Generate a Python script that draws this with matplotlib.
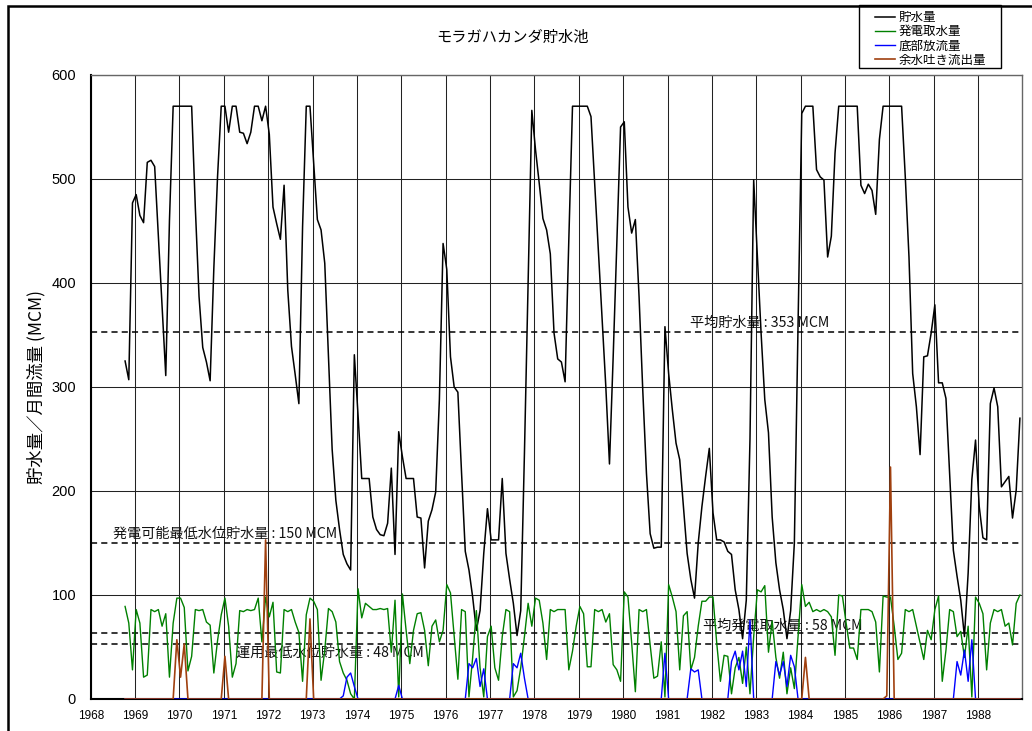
import matplotlib
matplotlib.use('Agg')
import matplotlib.pyplot as plt
from matplotlib.patches import Rectangle
from matplotlib.legend_handler import HandlerLine2D
from matplotlib.lines import Line2D
import numpy as np

plt.rcParams['font.family'] = ['Noto Sans CJK JP', 'DejaVu Sans']

title = 'モラガハカンダ貯水池'
ylabel = '貯水量／月間流量 (MCM)'
series_names = ['貯水量', '発電取水量', '底部放流量', '余水吐き流出量']
series_colors = ['#000000', '#008000', '#0000ff', '#a0400f']
year_ticks = list(range(1968, 1989))
y_ticks = [0, 100, 200, 300, 400, 500, 600]
start_year, start_month = 1968, 10   # monthly data Oct 1968 - Dec 1988

# Reference lines (value, label)
ref_values = [353, 150, 63, 52.5]
ref_labels = ['平均貯水量 : 353 MCM', '発電可能最低水位貯水量 : 150 MCM',
              '平均発電取水量 : 58 MCM', '運用最低水位貯水量 : 48 MCM']

storage = [
    325, 307, 477,                                              # 1968
    485, 465, 458, 516, 518, 512, 445, 378, 311, 460, 570, 570,  # 1969
    570, 570, 570, 570, 472, 387, 338, 324, 306, 414, 502, 570,  # 1970
    570, 545, 570, 570, 545, 544, 534, 545, 570, 570, 556, 570,  # 1971
    543, 473, 457, 442, 494, 393, 339, 312, 284, 454, 570, 570,  # 1972
    515, 461, 451, 419, 329, 240, 191, 163, 139, 130, 124, 331,  # 1973
    273, 212, 212, 212, 175, 163, 158, 157, 169, 222, 139, 257,  # 1974
    233, 212, 212, 212, 175, 174, 126, 171, 182, 199, 288, 438,  # 1975
    413, 329, 300, 295, 217, 142, 124, 98, 66, 85, 140, 183,     # 1976
    153, 153, 153, 212, 140, 115, 92, 61, 85, 236, 401, 566,     # 1977
    528, 496, 462, 451, 428, 352, 327, 324, 305, 441, 570, 570,  # 1978
    570, 570, 570, 560, 496, 431, 366, 301, 226, 329, 441, 550,  # 1979
    555, 473, 448, 461, 387, 297, 217, 159, 145, 146, 146, 358,  # 1980
    313, 278, 246, 230, 185, 140, 115, 97, 150, 185, 214, 241,   # 1981
    179, 153, 153, 151, 142, 139, 105, 86, 58, 95, 250, 499,     # 1982
    425, 352, 288, 256, 175, 131, 105, 86, 58, 85, 150, 360,     # 1983
    563, 570, 570, 570, 509, 502, 499, 425, 445, 525, 570, 570,  # 1984
    570, 570, 570, 570, 494, 486, 495, 489, 466, 538, 570, 570,  # 1985
    570, 570, 570, 570, 502, 425, 313, 281, 235, 329, 330, 352,  # 1986
    379, 304, 304, 289, 217, 143, 118, 95, 60, 121, 211, 249,    # 1987
    185, 155, 153, 284, 299, 281, 204, 209, 214, 174, 201, 270,  # 1988
]

power = [
    89, 73, 28,                                                  # 1968
    86, 73, 21, 23, 86, 84, 86, 70, 82, 21, 73, 97,              # 1969
    97, 88, 27, 41, 86, 85, 86, 74, 71, 25, 56, 81,              # 1970
    97, 70, 21, 34, 85, 84, 86, 85, 86, 97, 55, 98,              # 1971
    79, 93, 26, 25, 86, 84, 86, 74, 64, 17, 81, 97,              # 1972
    94, 86, 18, 47, 87, 84, 74, 36, 25, 18, 5, 0,                # 1973
    106, 78, 92, 89, 86, 86, 87, 86, 87, 45, 95, 2,              # 1974
    101, 66, 34, 66, 82, 83, 66, 32, 70, 76, 55, 66,             # 1975
    110, 102, 60, 19, 86, 84, 2, 40, 85, 30, 2, 60,              # 1976
    70, 30, 18, 60, 86, 84, 2, 8, 30, 60, 92, 70,                # 1977
    97, 95, 73, 38, 86, 84, 86, 86, 86, 28, 46, 70,              # 1978
    89, 82, 31, 31, 86, 84, 86, 74, 82, 33, 28, 17,              # 1979
    103, 98, 54, 7, 86, 84, 86, 52, 20, 22, 55, 2,               # 1980
    110, 98, 84, 28, 80, 84, 28, 40, 70, 94, 94, 98,             # 1981
    98, 54, 17, 42, 41, 5, 30, 40, 15, 50, 5, 60,                # 1982
    105, 103, 109, 45, 75, 40, 20, 45, 5, 30, 10, 60,            # 1983
    110, 89, 93, 84, 86, 84, 86, 84, 79, 42, 100, 99,            # 1984
    73, 49, 49, 38, 86, 86, 86, 84, 74, 26, 99, 98,              # 1985
    98, 70, 38, 44, 86, 84, 86, 70, 54, 38, 66, 57,              # 1986
    86, 99, 17, 47, 86, 84, 60, 65, 40, 70, 2, 98,               # 1987
    92, 82, 28, 73, 86, 84, 86, 70, 73, 52, 92, 100,             # 1988
]

bottom_outlet = [
    0, 0, 0,                                                     # 1968
    0, 0, 0, 0, 0, 0, 0, 0, 0, 0, 0, 0,                          # 1969
    0, 0, 0, 0, 0, 0, 0, 0, 0, 0, 0, 0,                          # 1970
    0, 0, 0, 0, 0, 0, 0, 0, 0, 0, 0, 0,                          # 1971
    0, 0, 0, 0, 0, 0, 0, 0, 0, 0, 0, 0,                          # 1972
    0, 0, 0, 0, 0, 0, 0, 0, 3, 21, 25, 12,                       # 1973
    0, 0, 0, 0, 0, 0, 0, 0, 0, 0, 0, 13,                         # 1974
    0, 0, 0, 0, 0, 0, 0, 0, 0, 0, 0, 0,                          # 1975
    0, 0, 0, 0, 0, 0, 34, 30, 39, 12, 29, 0,                     # 1976
    0, 0, 0, 0, 0, 0, 34, 30, 44, 20, 0, 0,                      # 1977
    0, 0, 0, 0, 0, 0, 0, 0, 0, 0, 0, 0,                          # 1978
    0, 0, 0, 0, 0, 0, 0, 0, 0, 0, 0, 0,                          # 1979
    0, 0, 0, 0, 0, 0, 0, 0, 0, 0, 0, 44,                         # 1980
    0, 0, 0, 0, 0, 0, 29, 26, 28, 0, 0, 0,                       # 1981
    0, 0, 0, 0, 0, 36, 46, 28, 46, 12, 76, 0,                    # 1982
    0, 0, 0, 0, 0, 36, 23, 36, 12, 42, 31, 0,                    # 1983
    0, 0, 0, 0, 0, 0, 0, 0, 0, 0, 0, 0,                          # 1984
    0, 0, 0, 0, 0, 0, 0, 0, 0, 0, 0, 0,                          # 1985
    0, 0, 0, 0, 0, 0, 0, 0, 0, 0, 0, 0,                          # 1986
    0, 0, 0, 0, 0, 0, 36, 23, 47, 17, 57, 0,                     # 1987
    0, 0, 0, 0, 0, 0, 0, 0, 0, 0, 0, 0,                          # 1988
]

spillway = [
    0, 0, 0,                                                     # 1968
    0, 0, 0, 0, 0, 0, 0, 0, 0, 0, 0, 57,                         # 1969
    21, 53, 0, 0, 0, 0, 0, 0, 0, 0, 0, 0,                        # 1970
    41, 0, 0, 0, 0, 0, 0, 0, 0, 0, 0, 153,                       # 1971
    0, 0, 0, 0, 0, 0, 0, 0, 0, 0, 0, 77,                         # 1972
    0, 0, 0, 0, 0, 0, 0, 0, 0, 0, 0, 0,                          # 1973
    0, 0, 0, 0, 0, 0, 0, 0, 0, 0, 0, 0,                          # 1974
    0, 0, 0, 0, 0, 0, 0, 0, 0, 0, 0, 0,                          # 1975
    0, 0, 0, 0, 0, 0, 0, 0, 0, 0, 0, 0,                          # 1976
    0, 0, 0, 0, 0, 0, 0, 0, 0, 0, 0, 0,                          # 1977
    0, 0, 0, 0, 0, 0, 0, 0, 0, 0, 0, 0,                          # 1978
    0, 0, 0, 0, 0, 0, 0, 0, 0, 0, 0, 0,                          # 1979
    0, 0, 0, 0, 0, 0, 0, 0, 0, 0, 0, 0,                          # 1980
    0, 0, 0, 0, 0, 0, 0, 0, 0, 0, 0, 0,                          # 1981
    0, 0, 0, 0, 0, 0, 0, 0, 0, 0, 0, 0,                          # 1982
    0, 0, 0, 0, 0, 0, 0, 0, 0, 0, 0, 0,                          # 1983
    0, 40, 0, 0, 0, 0, 0, 0, 0, 0, 0, 0,                         # 1984
    0, 0, 0, 0, 0, 0, 0, 0, 0, 0, 0, 3,                          # 1985
    223, 0, 0, 0, 0, 0, 0, 0, 0, 0, 0, 0,                        # 1986
    0, 0, 0, 0, 0, 0, 0, 0, 0, 0, 0, 0,                          # 1987
    0, 0, 0, 0, 0, 0, 0, 0, 0, 0, 0, 0,                          # 1988
]

n = len(storage)
month_index = np.arange(n) + (start_month - 1)
x = start_year + (month_index + 0.3) / 12.0

W, H = 1032, 731
fig = plt.figure(figsize=(W / 100, H / 100), dpi=100)
ax = fig.add_axes([90.7 / W, 1 - 699 / H, (1022.5 - 90.7) / W, (699 - 75) / H])

ax.set_xlim(1968, 1989)
ax.set_ylim(0, 600)
ax.set_xticks(year_ticks)
ax.set_xticklabels([str(y) for y in year_ticks], fontsize=8.5,
                   family=['Liberation Sans'])
ax.set_yticks(y_ticks)
ax.set_yticklabels([str(v) for v in y_ticks], fontsize=10.5,
                   family=['Liberation Sans'])
ax.tick_params(axis='y', length=0, pad=10.5)
ax.tick_params(axis='x', length=0, pad=8)
ax.grid(True, color='#222222', lw=0.75, zorder=0)
ax.set_axisbelow(True)
for side in ['top', 'right']:
    ax.spines[side].set_color('#666666')
    ax.spines[side].set_linewidth(1.0)
for side in ['left', 'bottom']:
    ax.spines[side].set_color('black')
    ax.spines[side].set_linewidth(1.5)

dash = (0, (4, 2.7))
for v in ref_values:
    ax.axhline(v, color='black', lw=1.1, linestyle=dash, zorder=1)

lw = [1.1, 1.0, 1.0, 1.2]
data = [storage, power, bottom_outlet, spillway]
handles = []
for vals, name, c, w in zip(data, series_names, series_colors, lw):
    h, = ax.plot(x, vals, color=c, lw=w, label=name, zorder=3)
    handles.append(h)

txt_kw = dict(fontsize=10.2, color='#111111', zorder=2)
ax.text(1981.5, 355, ref_labels[0], va='bottom', ha='left', **txt_kw)
ax.text(1968.5, 152, ref_labels[1], va='bottom', ha='left', **txt_kw)
ax.text(1981.8, 64, ref_labels[2], va='bottom', ha='left', **txt_kw)
ax.text(1971.27, 51, ref_labels[3], va='top', ha='left', **txt_kw)

ax.set_ylabel(ylabel, fontsize=12.5)
ax.yaxis.set_label_coords(-0.0485, 0.5)
fig.text(513 / W, 1 - 37 / H, title, ha='center', va='center', fontsize=11)


class OffsetLineHandler(HandlerLine2D):
    """Legend handle whose line occupies only the right part of the handle box."""
    def create_artists(self, legend, orig_handle, xdescent, ydescent,
                       width, height, fontsize, trans):
        y = (height - ydescent) / 2.0
        start = width * 0.37
        line = Line2D([start, width], [y, y], color=orig_handle.get_color(),
                      lw=orig_handle.get_linewidth())
        line.set_transform(trans)
        return [line]


leg = fig.legend(handles=handles, loc='upper left',
                 bbox_to_anchor=(859 / W, 1 - 6.5 / H), fontsize=9,
                 frameon=False, borderpad=0.35, handlelength=2.55,
                 handletextpad=0.25, labelspacing=0.1, borderaxespad=0,
                 handler_map={Line2D: OffsetLineHandler()})

# legend frame box
fig.patches.append(Rectangle((859 / W, 1 - 67.7 / H), (1001 - 859) / W,
                             (67.7 - 5) / H, transform=fig.transFigure,
                             fill=False, lw=1.0, ec='black'))

# outer figure frame
fig.patches.append(Rectangle((8 / W, -0.2), 1.5, 1.2 - 6 / H,
                             transform=fig.transFigure, fill=False,
                             lw=1.8, ec='black'))

fig.savefig('out.png', dpi=100)
